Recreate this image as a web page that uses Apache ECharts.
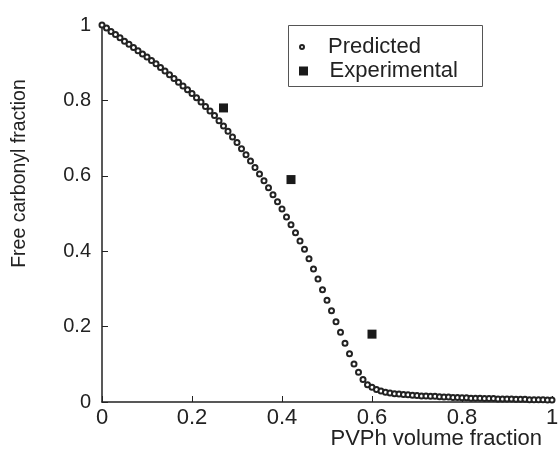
<!DOCTYPE html>
<html>
<head>
<meta charset="utf-8">
<script src="https://cdn.jsdelivr.net/npm/echarts@6/dist/echarts.min.js"></script>
<style>
  html, body { margin: 0; padding: 0; background: #fff; }
  #chart { width: 558px; height: 454px; }
</style>
</head>
<body>
<div id="chart"></div>
<script>
// predicted free carbonyl fraction, one point per 0.01 of PVPh volume fraction
const predX = [
  0.00, 0.01, 0.02, 0.03, 0.04, 0.05, 0.06, 0.07, 0.08, 0.09,
  0.10, 0.11, 0.12, 0.13, 0.14, 0.15, 0.16, 0.17, 0.18, 0.19,
  0.20, 0.21, 0.22, 0.23, 0.24, 0.25, 0.26, 0.27, 0.28, 0.29,
  0.30, 0.31, 0.32, 0.33, 0.34, 0.35, 0.36, 0.37, 0.38, 0.39,
  0.40, 0.41, 0.42, 0.43, 0.44, 0.45, 0.46, 0.47, 0.48, 0.49,
  0.50, 0.51, 0.52, 0.53, 0.54, 0.55, 0.56, 0.57, 0.58, 0.59,
  0.60, 0.61, 0.62, 0.63, 0.64, 0.65, 0.66, 0.67, 0.68, 0.69,
  0.70, 0.71, 0.72, 0.73, 0.74, 0.75, 0.76, 0.77, 0.78, 0.79,
  0.80, 0.81, 0.82, 0.83, 0.84, 0.85, 0.86, 0.87, 0.88, 0.89,
  0.90, 0.91, 0.92, 0.93, 0.94, 0.95, 0.96, 0.97, 0.98, 0.99,
  1.00
];
const predY = [
  1.000, 0.992, 0.983, 0.975, 0.966, 0.957, 0.949, 0.940, 0.932, 0.923,
  0.915, 0.906, 0.897, 0.887, 0.878, 0.868, 0.858, 0.848, 0.838, 0.828,
  0.818, 0.807, 0.796, 0.784, 0.772, 0.760, 0.746, 0.732, 0.718, 0.703,
  0.688, 0.672, 0.656, 0.639, 0.622, 0.605, 0.587, 0.568, 0.550, 0.531,
  0.512, 0.491, 0.470, 0.449, 0.427, 0.405, 0.380, 0.353, 0.326, 0.298,
  0.270, 0.242, 0.213, 0.185, 0.156, 0.128, 0.101, 0.079, 0.060, 0.046,
  0.039, 0.033, 0.029, 0.026, 0.024, 0.022, 0.021, 0.020, 0.019, 0.018,
  0.017, 0.016, 0.016, 0.015, 0.015, 0.014, 0.013, 0.013, 0.012, 0.012,
  0.011, 0.011, 0.010, 0.010, 0.010, 0.009, 0.009, 0.009, 0.008, 0.008,
  0.008, 0.008, 0.007, 0.007, 0.007, 0.006, 0.006, 0.006, 0.006, 0.005,
  0.005
];
const expX = [0.27, 0.42, 0.60];
const expY = [0.78, 0.59, 0.18];
const seriesNames = ["Predicted", "Experimental"];

const FONT = "'Liberation Sans', Arial, sans-serif";
const INK = "#222";

const chart = echarts.init(document.getElementById("chart"), null, { renderer: "canvas" });

const option = {
  backgroundColor: "#fff",
  animation: false,
  grid: { left: 102, right: 6, top: 25, bottom: 52, outerBoundsMode: "none", containLabel: false },
  xAxis: {
    type: "value",
    min: 0,
    max: 1,
    interval: 0.2,
    name: "PVPh volume fraction",
    nameLocation: "end",
    nameGap: -10,
    nameMoveOverlap: false,
    nameTextStyle: {
      fontFamily: FONT, fontSize: 22, color: INK,
      align: "right", verticalAlign: "top", padding: [26, 0, 0, 0],
    },
    axisLine: { lineStyle: { color: INK, width: 1.5 } },
    axisTick: { inside: true, length: 6, lineStyle: { color: INK } },
    splitLine: { show: false },
    axisLabel: { fontFamily: FONT, fontSize: 22, color: INK, margin: 5 },
  },
  yAxis: {
    type: "value",
    min: 0,
    max: 1,
    interval: 0.2,
    name: "Free carbonyl fraction",
    nameLocation: "middle",
    nameGap: 72,
    nameMoveOverlap: false,
    nameTextStyle: {
      fontFamily: FONT, fontSize: 19.5, color: INK, padding: [0, 0, 0, 80],
    },
    axisLine: { show: true, lineStyle: { color: INK, width: 1.5 } },
    axisTick: { show: true, inside: true, length: 6, lineStyle: { color: INK } },
    splitLine: { show: false },
    axisLabel: { fontFamily: FONT, fontSize: 20, color: INK, margin: 11 },
  },
  legend: [
    {
      data: [seriesNames[0]],
      left: 299, top: 36, padding: 0,
      itemWidth: 42, itemHeight: 4,
      symbolKeepAspect: true,
      textStyle: { fontFamily: FONT, fontSize: 22, color: INK },
    },
    {
      data: [{ name: seriesNames[1], icon: "path://M0,0H10V10H0Z" }],
      left: 299, top: 60, padding: 0,
      itemWidth: 42, itemHeight: 9,
      symbolKeepAspect: true,
      textStyle: { fontFamily: FONT, fontSize: 22, color: INK },
    },
  ],
  graphic: [
    {
      type: "rect",
      shape: { x: 288.5, y: 25.5, width: 194, height: 61 },
      style: { fill: "none", stroke: "#555", lineWidth: 1 },
      z: 10,
    },
  ],
  series: [
    {
      name: seriesNames[0],
      type: "scatter",
      symbol: "emptyCircle",
      symbolSize: 5,
      itemStyle: { color: INK, borderWidth: 1.2, opacity: 1 },
      data: predX.map((x, i) => [x, predY[i]]),
    },
    {
      name: seriesNames[1],
      type: "scatter",
      symbol: "rect",
      symbolSize: 9,
      itemStyle: { color: "#1a1a1a", opacity: 1 },
      data: expX.map((x, i) => [x, expY[i]]),
    },
  ],
};

chart.setOption(option);
</script>
</body>
</html>
